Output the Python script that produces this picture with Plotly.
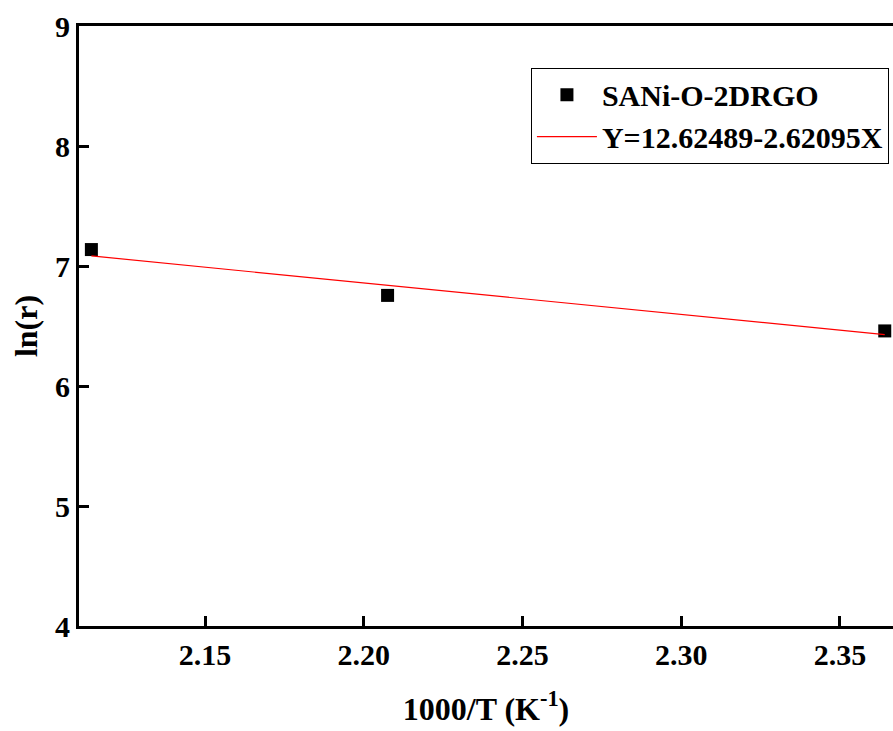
import plotly.graph_objects as go

# Data
inv_T = [2.1142, 2.2075, 2.3641]          # 1000/T (K^-1)
ln_r = [7.137, 6.755, 6.459]              # ln(r)
intercept = 12.62489
slope = -2.62095
fit_x = [inv_T[0], inv_T[-1]]
fit_y = [intercept + slope * x for x in fit_x]

x_ticks = [2.15, 2.20, 2.25, 2.30, 2.35]
y_ticks = [4, 5, 6, 7, 8, 9]

FONT = "Liberation Serif"

fig = go.Figure()
fig.add_trace(go.Scatter(
    x=inv_T, y=ln_r, mode="markers", name="<b>SANi-O-2DRGO</b>",
    marker=dict(symbol="square", size=13, color="black"),
))
fig.add_trace(go.Scatter(
    x=fit_x, y=fit_y, mode="lines", name="<b>Y=12.62489-2.62095X</b>",
    line=dict(color="red", width=1.2),
))

axis_common = dict(
    showline=True, linecolor="black", linewidth=3,
    ticks="inside", ticklen=10, tickwidth=3, tickcolor="black",
    showgrid=False, zeroline=False,
    tickfont=dict(family=FONT, size=30, color="black"),
)

fig.update_layout(
    width=893, height=731,
    margin=dict(l=79, r=0, t=26, b=105),
    paper_bgcolor="white", plot_bgcolor="white",
    font=dict(family=FONT, color="black"),
    xaxis=dict(
        range=[2.1103, 2.3667], tickvals=x_ticks,
        ticktext=[f"<b>{v:.2f}</b>" for v in x_ticks],
        mirror=True,
        title=dict(text="<b>1000/T (K<sup>-1</sup>)</b>",
                   font=dict(family=FONT, size=32, color="black"), standoff=28),
        **axis_common,
    ),
    yaxis=dict(
        range=[4, 9], tickvals=y_ticks,
        ticktext=[f"<b>{v}</b>" for v in y_ticks],
        mirror=False,
        title=dict(text="<b>ln(r)</b>",
                   font=dict(family=FONT, size=32, color="black"), standoff=8),
        **axis_common,
    ),
    legend=dict(
        x=0.995, y=0.9306, xanchor="right", yanchor="top",
        bordercolor="black", borderwidth=1, bgcolor="white",
        font=dict(family=FONT, size=30, color="black"),
        tracegroupgap=0, itemwidth=60,
    ),
)

fig.write_html("out.html")
